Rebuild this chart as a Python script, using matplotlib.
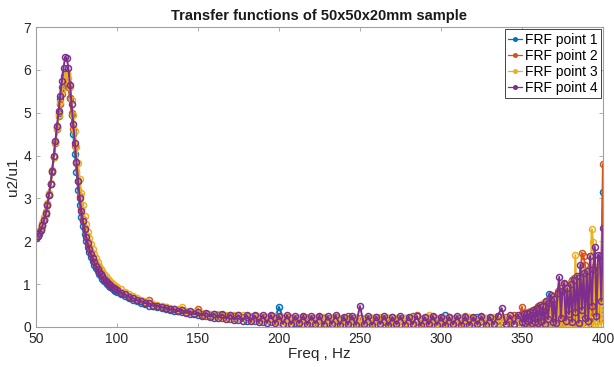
import matplotlib.pyplot as plt
import numpy as np

plt.rcParams['font.family'] = ['Liberation Sans', 'DejaVu Sans']

# frequency grid (Hz): fine around the resonance and at the noisy top end
freq = np.concatenate([np.arange(50, 101, 1.0),
                       np.arange(102.5, 348, 2.5),
                       np.arange(350, 401, 1.0)])

# FRF point 1 (blue)
frf1 = [2.07, 2.12, 2.18, 2.26, 2.36, 2.49, 2.64, 2.84, 3.07, 3.33,
        3.63, 3.97, 4.32, 4.66, 5.0, 5.32, 5.6, 5.85, 5.95, 5.9,
        5.7, 5.35, 4.95, 4.5, 4.05, 3.62, 3.2, 2.85, 2.57, 2.35,
        2.17, 2.0, 1.86, 1.74, 1.63, 1.53, 1.45, 1.37, 1.3, 1.24,
        1.18, 1.13, 1.08, 1.04, 1.0, 0.96, 0.93, 0.9, 0.87, 0.85, 0.82,
        0.77, 0.72, 0.68, 0.63, 0.6, 0.56, 0.54, 0.5, 0.49, 0.46,
        0.44, 0.41, 0.4, 0.37, 0.37, 0.34, 0.34, 0.31, 0.32, 0.28,
        0.3, 0.25, 0.28, 0.22, 0.27, 0.2, 0.26, 0.19, 0.25, 0.17,
        0.24, 0.15, 0.23, 0.14, 0.22, 0.12, 0.23, 0.11, 0.21, 0.47,
        0.22, 0.09, 0.2, 0.1, 0.21, 0.08, 0.2, 0.09, 0.22, 0.07,
        0.2, 0.09, 0.21, 0.06, 0.19, 0.08, 0.26, 0.07, 0.2, 0.08,
        0.19, 0.06, 0.2, 0.08, 0.18, 0.05, 0.21, 0.07, 0.19, 0.06,
        0.2, 0.07, 0.26, 0.05, 0.19, 0.07, 0.2, 0.06, 0.18, 0.08,
        0.27, 0.06, 0.19, 0.05, 0.2, 0.07, 0.18, 0.06, 0.24, 0.05,
        0.2, 0.07, 0.19, 0.06, 0.21, 0.08, 0.2, 0.07, 0.23,
        0.25, 0.08, 0.3, 0.1, 0.28, 0.06, 0.35, 0.12, 0.4, 0.08,
        0.45, 0.1, 0.5, 0.07, 0.55, 0.2, 0.45, 0.77, 0.1, 0.6,
        0.12, 0.7, 0.08, 0.75, 0.2, 0.85, 0.1, 0.9, 0.25, 0.95,
        0.15, 1.1, 0.2, 1.0, 0.1, 1.15, 0.3, 1.05, 0.12, 1.2,
        0.2, 1.25, 0.1, 1.3, 0.35, 1.2, 0.15, 1.35, 0.4, 1.3,
        3.15]

# FRF point 2 (orange)
frf2 = [2.09, 2.14, 2.2, 2.28, 2.38, 2.51, 2.66, 2.86, 3.09, 3.35,
        3.64, 3.97, 4.3, 4.62, 4.93, 5.2, 5.45, 5.65, 5.75, 5.74,
        5.6, 5.35, 5.0, 4.62, 4.22, 3.82, 3.42, 3.06, 2.76, 2.52,
        2.32, 2.14, 1.99, 1.86, 1.74, 1.64, 1.55, 1.47, 1.39, 1.32,
        1.26, 1.2, 1.15, 1.1, 1.06, 1.02, 0.99, 0.96, 0.93, 0.9, 0.87,
        0.82, 0.76, 0.72, 0.67, 0.64, 0.6, 0.58, 0.62, 0.52, 0.5,
        0.47, 0.46, 0.43, 0.41, 0.39, 0.4, 0.36, 0.35, 0.34, 0.42,
        0.28, 0.31, 0.26, 0.3, 0.25, 0.29, 0.23, 0.28, 0.22, 0.27,
        0.2, 0.26, 0.19, 0.25, 0.17, 0.24, 0.16, 0.25, 0.15, 0.23,
        0.14, 0.24, 0.13, 0.22, 0.12, 0.23, 0.11, 0.21, 0.12, 0.24,
        0.1, 0.22, 0.12, 0.23, 0.09, 0.2, 0.11, 0.22, 0.1, 0.21,
        0.09, 0.21, 0.1, 0.24, 0.08, 0.2, 0.1, 0.23, 0.09, 0.21,
        0.1, 0.22, 0.08, 0.27, 0.09, 0.2, 0.1, 0.23, 0.07, 0.22,
        0.09, 0.24, 0.08, 0.2, 0.1, 0.26, 0.07, 0.21, 0.09, 0.23,
        0.1, 0.22, 0.08, 0.25, 0.11, 0.23, 0.1, 0.28, 0.12,
        0.47, 0.12, 0.32, 0.09, 0.35, 0.14, 0.3, 0.1, 0.42, 0.15,
        0.5, 0.12, 0.45, 0.2, 0.58, 0.1, 0.62, 0.15, 0.55, 0.2,
        0.7, 0.1, 0.85, 0.25, 0.9, 0.15, 1.0, 0.3, 0.95, 0.12,
        1.05, 0.2, 1.15, 0.1, 1.2, 0.35, 1.1, 1.73, 1.65, 1.45,
        0.3, 1.25, 0.15, 1.4, 0.25, 1.3, 0.5, 1.2, 0.2, 1.35,
        3.8]

# FRF point 3 (yellow)
frf3 = [2.1, 2.16, 2.23, 2.32, 2.43, 2.56, 2.71, 2.9, 3.12, 3.37,
        3.66, 3.98, 4.31, 4.64, 4.96, 5.26, 5.52, 5.74, 5.88, 5.92,
        5.82, 5.6, 5.3, 4.95, 4.58, 4.2, 3.82, 3.45, 3.12, 2.84,
        2.6, 2.4, 2.22, 2.07, 1.93, 1.81, 1.7, 1.6, 1.51, 1.43,
        1.36, 1.3, 1.24, 1.19, 1.14, 1.1, 1.06, 1.02, 0.99, 0.96, 0.93,
        0.88, 0.82, 0.77, 0.72, 0.68, 0.64, 0.6, 0.57, 0.54, 0.52,
        0.49, 0.47, 0.45, 0.43, 0.41, 0.47, 0.38, 0.35, 0.36, 0.32,
        0.33, 0.28, 0.31, 0.26, 0.3, 0.24, 0.29, 0.22, 0.28, 0.2,
        0.27, 0.18, 0.26, 0.16, 0.25, 0.14, 0.24, 0.13, 0.25, 0.11,
        0.24, 0.1, 0.23, 0.04, 0.22, 0.1, 0.24, 0.08, 0.21, 0.09,
        0.23, 0.07, 0.22, 0.09, 0.2, 0.05, 0.23, 0.08, 0.21, 0.07,
        0.22, 0.08, 0.2, 0.06, 0.23, 0.08, 0.21, 0.04, 0.22, 0.07,
        0.2, 0.08, 0.23, 0.06, 0.21, 0.09, 0.29, 0.07, 0.22, 0.05,
        0.21, 0.08, 0.22, 0.06, 0.2, 0.09, 0.23, 0.05, 0.22, 0.08,
        0.2, 0.07, 0.23, 0.09, 0.21, 0.06, 0.24, 0.08, 0.22,
        0.05, 0.28, 0.07, 0.3, 0.04, 0.38, 0.1, 0.33, 0.06, 0.4,
        0.05, 0.48, 0.08, 0.55, 0.03, 0.6, 0.1, 0.52, 0.05, 0.68,
        0.04, 0.75, 0.1, 0.82, 0.03, 0.88, 0.07, 0.95, 0.05, 1.0,
        0.04, 1.05, 0.08, 1.68, 0.03, 1.1, 0.06, 1.2, 0.02, 1.3,
        0.05, 1.25, 0.04, 2.28, 1.99, 0.06, 1.4, 0.03, 1.35, 0.05,
        1.5]

# FRF point 4 (purple)
frf4 = [2.08, 2.13, 2.19, 2.27, 2.37, 2.5, 2.65, 2.85, 3.08, 3.35,
        3.65, 4.0, 4.35, 4.7, 5.05, 5.4, 5.75, 6.05, 6.3, 6.28,
        6.05, 5.65, 5.2, 4.75, 4.3, 3.85, 3.4, 3.0, 2.7, 2.47,
        2.28, 2.1, 1.95, 1.82, 1.7, 1.6, 1.51, 1.43, 1.36, 1.29,
        1.23, 1.18, 1.13, 1.08, 1.04, 1.0, 0.97, 0.94, 0.91, 0.88, 0.86,
        0.8, 0.76, 0.7, 0.67, 0.62, 0.6, 0.56, 0.55, 0.5, 0.5,
        0.46, 0.45, 0.41, 0.42, 0.37, 0.4, 0.33, 0.37, 0.3, 0.34,
        0.26, 0.33, 0.24, 0.31, 0.21, 0.3, 0.19, 0.29, 0.17, 0.28,
        0.15, 0.28, 0.13, 0.27, 0.11, 0.27, 0.1, 0.28, 0.09, 0.26,
        0.08, 0.27, 0.07, 0.25, 0.09, 0.26, 0.06, 0.25, 0.08, 0.26,
        0.05, 0.25, 0.07, 0.27, 0.05, 0.24, 0.06, 0.26, 0.05, 0.49,
        0.06, 0.25, 0.05, 0.24, 0.07, 0.26, 0.04, 0.23, 0.06, 0.25,
        0.05, 0.24, 0.06, 0.25, 0.04, 0.23, 0.06, 0.26, 0.05, 0.24,
        0.04, 0.23, 0.06, 0.25, 0.05, 0.24, 0.04, 0.23, 0.06, 0.25,
        0.05, 0.24, 0.06, 0.26, 0.44, 0.06, 0.27, 0.07, 0.29,
        0.12, 0.3, 0.1, 0.33, 0.14, 0.36, 0.09, 0.4, 0.12, 0.45,
        0.1, 0.52, 0.15, 0.48, 0.08, 0.6, 0.18, 0.55, 0.75, 0.12,
        0.65, 0.1, 0.8, 1.17, 0.2, 0.85, 1.03, 0.15, 0.9, 0.3,
        1.0, 0.12, 1.1, 0.35, 1.2, 0.1, 1.45, 0.4, 1.25, 0.2,
        1.3, 0.15, 1.66, 0.5, 1.35, 1.87, 0.25, 1.68, 1.66, 0.6,
        2.3]

labels = ['FRF point 1', 'FRF point 2', 'FRF point 3', 'FRF point 4']
colors = ['#0072BD', '#D95319', '#EDB120', '#7E2F8E']

fig = plt.figure(figsize=(6.14, 3.67), dpi=100)
ax = fig.add_axes([0.0586, 0.109, 0.9234, 0.817])

for y, lab, c in zip([frf1, frf2, frf3, frf4], labels, colors):
    ax.plot(freq, y, '-o', color=c, lw=1.4, ms=4.3, mfc='none', mew=1.1, label=lab)

ax.set_xlim(50, 400)
ax.set_ylim(0, 7)
ax.set_xticks(np.arange(50, 401, 50))
ax.set_yticks(np.arange(0, 8, 1))
ax.tick_params(direction='in', top=True, right=True, length=3, width=0.6,
               colors='#a0a0a0', labelcolor='#262626', labelsize=10)
for s in ax.spines.values():
    s.set_color('#a0a0a0')
    s.set_linewidth(0.8)

ax.set_title('Transfer functions of 50x50x20mm sample', fontsize=10.5,
             fontweight='bold', color='#1a1a1a', pad=5)
ax.set_xlabel('Freq , Hz', fontsize=11, color='#262626', labelpad=1)
ax.set_ylabel('u2/u1', fontsize=11, color='#262626', labelpad=2)

# legend handles drawn thin with a small dot, as in the reference
leg = ax.legend(loc='upper right', fontsize=10, handlelength=1.0, handletextpad=0.2,
                borderpad=0.25, labelspacing=0.15, borderaxespad=0.15, fancybox=False,
                framealpha=1)
for h in leg.legend_handles:
    h.set_linewidth(0.9)
    h.set_markersize(2.5)
    h.set_markerfacecolor(h.get_color())
leg.get_frame().set_edgecolor('#262626')
leg.get_frame().set_linewidth(0.6)

fig.savefig('out.png', dpi=100)
